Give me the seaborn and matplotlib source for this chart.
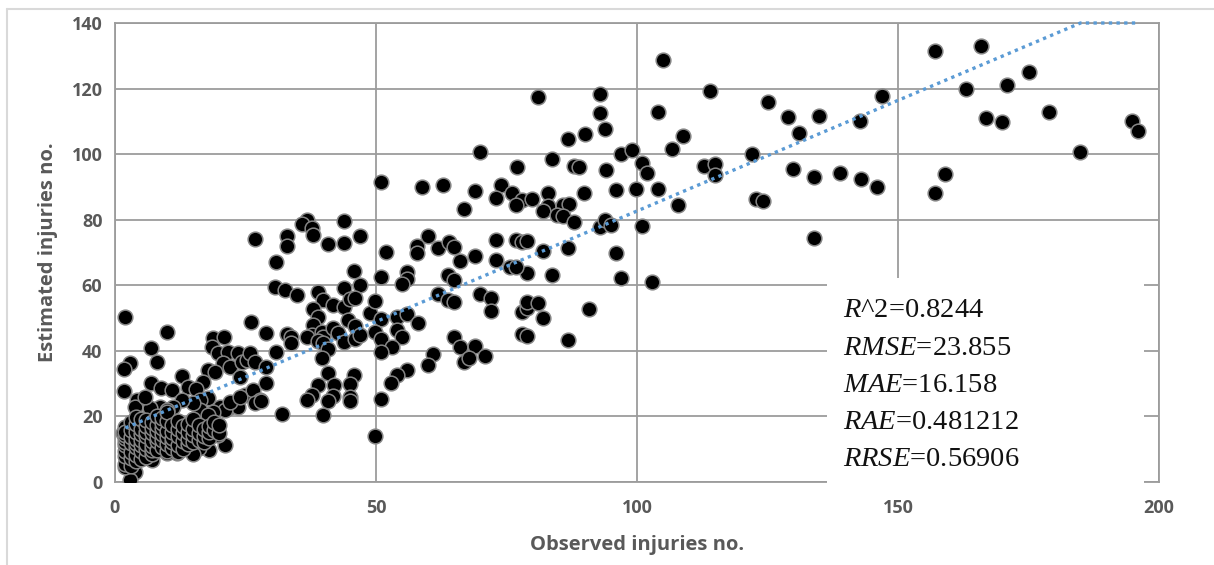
import numpy as np
import pandas as pd
import matplotlib
matplotlib.use("Agg")
import matplotlib.pyplot as plt
from matplotlib.patches import Rectangle
from matplotlib.lines import Line2D
import seaborn as sns

# ---------------- data ----------------
# low-count cluster and its upper fringe (x <= 30)
obs_low = [1.9, 9.9, 6.9, 2.9, 1.8, 8.0, 1.8, 4.2, 3.8, 6.9, 8.9, 10.9, 12.9, 13.9, 18.8, 20.9, 18.5,
           19.8, 21.7, 23.6, 20.7, 22.0, 24.3, 25.2, 17.9, 19.2, 16.9, 15.5, 17.9, 16.3, 20.1, 22.0,
           23.6, 21.1, 18.8, 16.3, 17.9, 15.0, 12.8, 11.2, 8.6, 6.7, 9.9, 5.7, 22.0, 24.9, 26.5, 27.8,
           26.8, 25.9, 26.8, 28.9, 23.9, 23.9, 28.0, 28.9,
           21.1, 19.8, 18.1, 16.0, 14.9, 11.8, 9.9, 7.0, 3.8, 2.9, 1.9, 1.6, 1.9, 12.8]
est_low = [50.4, 45.8, 41.0, 36.4, 34.4, 36.7, 27.8, 25.0, 23.0, 30.3, 28.6, 28.1, 32.3, 28.9, 43.8, 44.3, 41.3,
           39.2, 39.7, 39.2, 36.2, 35.2, 36.7, 37.2, 34.2, 33.6, 30.6, 28.3, 25.5, 25.0, 23.0, 23.0,
           23.0, 22.0, 21.4, 22.0, 20.4, 24.0, 25.0, 23.0, 23.0, 22.5, 22.0, 26.0, 24.5, 26.5, 28.1, 25.0,
           24.2, 39.2, 36.7, 35.0, 32.1, 26.0, 24.8, 30.1,
           11.3, 14.3, 9.8, 10.3, 8.5, 8.8, 8.8, 6.7, 3.1, 0.6, 4.7, 14.8, 16.9, 11.8]

# dense core of the cluster (stacks of counts 2..20)
obs_core = [2, 2, 2, 2, 2, 2, 2, 2, 3, 3, 3, 3, 3, 3, 3, 4, 4, 4, 4, 4, 4, 4, 4,
            5, 5, 5, 5, 5, 5, 5, 6, 6, 6, 6, 6, 6, 6, 7, 7, 7, 7, 7, 7, 7,
            8, 8, 8, 8, 8, 8, 9, 9, 9, 9, 9, 9, 10, 10, 10, 10, 10, 10,
            11, 11, 11, 11, 11, 12, 12, 12, 12, 12, 13, 13, 13, 13, 14, 14, 14, 14,
            15, 15, 15, 15, 16, 16, 16, 17, 17, 17, 18, 18, 18, 19, 19, 20, 20]
est_core = [5.6, 7.9, 9.4, 11.2, 12.1, 13.4, 14.3, 15.1, 4.8, 7.3, 9.1, 11.8, 13.7, 15.9, 18.2,
            6.4, 8.3, 10.6, 11.9, 13.2, 15.4, 17.6, 19.7,
            7.1, 9.5, 11.3, 12.8, 14.6, 16.1, 19.2, 7.7, 10.2, 11.6, 13.9, 15.3, 17.2, 18.8,
            8.6, 9.8, 11.1, 12.6, 14.8, 16.4, 18.3,
            9.9, 12.4, 13.6, 15.7, 17.3, 20.1, 10.8, 12.9, 14.7, 16.6, 18.1, 19.6,
            9.6, 11.7, 13.8, 15.5, 18.6, 21.2,
            10.3, 12.2, 13.3, 15.1, 17.4, 9.2, 11.4, 14.1, 16.2, 18.7, 10.1, 12.5, 14.9, 17.1,
            11.6, 13.1, 15.2, 17.8,
            12.3, 14.2, 16.3, 19.1, 12.9, 15.0, 17.3, 12.1, 13.9, 16.1, 13.4, 15.4, 17.0,
            15.8, 18.2, 14.9, 17.4]

# mid range (24 <= x <= 50)
obs_mid = [31.9, 39.9, 40.9, 42.0, 41.8, 40.9, 45.8, 45.0, 45.0, 45.0, 38.8, 37.7, 36.7, 26.1, 28.9,
           32.9, 33.8, 33.8, 30.8, 30.7, 32.6, 34.8, 36.7, 35.8, 37.7, 37.9, 43.9, 26.8, 32.9, 32.9,
           40.9, 43.9, 46.9, 30.8, 45.8, 46.9, 43.9, 38.9, 39.9, 41.8, 43.9, 45.0, 46.0, 37.9, 38.8,
           37.9, 37.7, 36.7, 39.6, 39.9, 41.8, 42.8, 44.7, 46.0, 43.9, 46.0, 46.9, 38.8, 39.9, 40.9,
           39.6, 48.9, 49.8]
est_mid = [20.6, 20.4, 33.2, 29.6, 26.2, 24.7, 32.6, 29.9, 25.8, 24.7, 29.6, 26.5, 25.0, 48.9, 45.5,
           45.0, 44.3, 42.3, 39.7, 59.4, 58.6, 57.0, 79.9, 78.6, 77.6, 75.3, 79.6, 74.0, 75.0, 72.0,
           72.6, 73.0, 75.0, 67.2, 64.4, 60.1, 59.3, 58.0, 55.5, 54.0, 53.3, 55.7, 56.0, 52.7, 50.4,
           47.9, 44.8, 44.3, 45.8, 44.3, 46.9, 45.3, 49.4, 47.6, 42.8, 43.5, 44.8, 43.1, 42.5, 40.5,
           37.7, 51.4, 55.3]

# 50 <= x <= 100
obs_high = [69.9, 86.8, 90.0, 93.9, 83.8, 77.0, 87.9, 88.9, 94.0, 96.9, 99.0, 51.0, 58.9, 62.9, 69.0,
            73.9, 76.0, 72.9, 77.9, 76.8, 79.9, 83.0, 83.0, 81.9, 85.9, 87.0, 84.7, 85.9, 87.9, 89.9,
            95.9, 66.9, 92.9, 93.9, 95.0, 82.0, 86.8, 95.9, 96.9, 83.8, 78.9, 72.9, 72.9, 76.8, 77.9,
            78.9, 75.7, 76.8, 59.9, 57.9, 57.9, 51.9, 61.8, 63.9, 65.0, 66.0, 69.0, 51.0, 56.0, 56.0,
            54.9, 63.7, 65.0, 61.9, 63.7, 65.0, 69.9, 72.0, 72.0, 77.9, 78.9, 78.9, 81.0, 81.9, 90.9,
            77.9, 78.9, 86.8, 51.0, 54.0, 56.0, 58.0, 49.9, 51.0, 54.0, 55.0, 53.0, 51.0, 65.0, 66.0,
            69.0, 70.9, 66.9, 67.9, 61.0, 59.9, 56.0, 54.0, 52.9, 51.0, 49.9, 81.0, 92.9, 92.9]
est_high = [100.7, 104.6, 106.1, 107.8, 98.4, 96.2, 96.5, 96.0, 95.1, 99.9, 101.2, 91.6, 90.1, 90.6, 88.7,
            90.6, 88.2, 86.7, 86.0, 84.5, 86.2, 88.0, 84.2, 82.7, 84.5, 84.8, 81.4, 81.1, 79.4, 88.0,
            89.1, 83.2, 77.9, 79.9, 78.4, 70.5, 71.3, 69.9, 62.3, 63.1, 63.8, 73.8, 67.7, 73.8, 73.3,
            73.6, 65.7, 65.7, 75.0, 72.0, 69.9, 70.2, 71.3, 73.3, 71.8, 67.4, 68.9, 62.6, 64.1, 61.9,
            60.4, 63.1, 61.6, 57.3, 55.5, 54.8, 57.3, 56.2, 52.2, 51.8, 53.0, 55.0, 54.7, 50.1, 52.7,
            45.1, 44.6, 43.3, 49.7, 50.4, 51.1, 48.4, 45.8, 43.6, 46.4, 44.1, 41.3, 39.7, 44.3, 41.3,
            41.5, 38.4, 36.7, 37.7, 39.0, 35.7, 34.2, 32.6, 30.1, 25.2, 14.0, 117.5, 118.2, 112.6]

# x > 100
obs_top = [104.9, 114.0, 104.0, 125.0, 129.0, 134.9, 131.0, 147.0, 142.8, 108.9, 106.8, 100.9, 102.0,
           99.9, 104.0, 107.9, 112.9, 115.0, 115.0, 122.0, 129.8, 133.9, 138.9, 142.9, 146.0, 122.8,
           124.1, 101.0, 134.0, 102.9, 157.0, 165.9, 175.0, 163.0, 170.9, 166.9, 170.0, 179.0, 194.9,
           195.9, 184.9, 159.0, 157.0]
est_top = [128.7, 119.3, 112.9, 116.0, 111.2, 111.6, 106.5, 117.8, 110.2, 105.6, 101.5, 97.4, 94.3,
           89.5, 89.3, 84.5, 96.4, 97.0, 93.6, 100.1, 95.6, 93.0, 94.3, 92.5, 90.0, 86.2,
           85.8, 78.1, 74.5, 61.1, 131.4, 133.1, 125.0, 120.0, 121.1, 111.0, 109.9, 112.8, 110.0,
           107.1, 100.8, 94.0, 88.3]

# linear trend line (Excel-style), clipped at the top of the axis
trend_slope = 0.675
trend_intercept = 15.15
trend_x_range = [2.0, 196.0]

stats_lines = [("R", "^2=0.8244"), ("RMSE", "=23.855"), ("MAE", "=16.158"),
               ("RAE", "=0.481212"), ("RRSE", "=0.56906")]

x_ticks = [0, 50, 100, 150, 200]
y_ticks = [0, 20, 40, 60, 80, 100, 120, 140]
x_label = "Observed injuries no."
y_label = "Estimated injuries no."

# ---------------- build ----------------
df = pd.DataFrame({
    "observed": obs_low + obs_core + obs_mid + obs_high + obs_top,
    "estimated": est_low + est_core + est_mid + est_high + est_top,
})

sns.set_theme(style="white")
plt.rcParams["font.family"] = ["Open Sans", "DejaVu Sans"]
plt.rcParams["mathtext.fontset"] = "custom"
plt.rcParams["mathtext.rm"] = "Liberation Serif"
plt.rcParams["mathtext.it"] = "Liberation Serif:italic"

W, H = 1214, 565
fig = plt.figure(figsize=(W / 100, H / 100), dpi=100)
ax = fig.add_axes([115 / W, 1 - 482 / H, (1159 - 115) / W, (482 - 23) / H])

grid_c = "#9c9c9c"
ax.set_axisbelow(True)
ax.grid(True, color=grid_c, linewidth=1.3)
for s in ax.spines.values():
    s.set_color(grid_c)
    s.set_linewidth(1.3)

sns.scatterplot(data=df, x="observed", y="estimated", ax=ax, s=112, color="black",
                edgecolor="#858585", linewidth=1.1, zorder=3, legend=False)

x_hit = (140 - trend_intercept) / trend_slope
tx = np.array([trend_x_range[0], x_hit, trend_x_range[1]])
ty = np.minimum(trend_slope * tx + trend_intercept, 140)
ax.plot(tx, ty, color="#5b9bd5", linewidth=2.4, linestyle=(0, (1, 1.3)),
        dash_capstyle="butt", zorder=4, clip_on=False)

ax.set_xlim(0, 200)
ax.set_ylim(0, 140)
ax.set_xticks(x_ticks)
ax.set_yticks(y_ticks)
ax.tick_params(length=0, labelsize=13, labelcolor="#595959", pad=9)
ax.tick_params(axis="x", pad=12)
for lab in ax.get_xticklabels() + ax.get_yticklabels():
    lab.set_fontweight("bold")

ax.set_xlabel(x_label, fontsize=14.5, fontweight="bold", color="#595959", labelpad=13)
ax.set_ylabel(y_label, fontsize=14.5, fontweight="bold", color="#595959", labelpad=10)

# white stats box hiding the grid
box = Rectangle((136.4, -0.6), 60.7, 62.8, facecolor="white", edgecolor="none",
                zorder=2.6, clip_on=False)
ax.add_patch(box)
y0 = 52.2
for i, (var, rest) in enumerate(stats_lines):
    ax.text(139.4, y0 - i * 11.35, f"${var}$" + rest, fontsize=20.5, color="#111111",
            family="Liberation Serif", va="center", ha="left", zorder=5)

# light outer frame of the picture
fig.add_artist(Line2D([7 / W, 7 / W], [-0.1, 1 - 9 / H], transform=fig.transFigure,
                      color="#d9d9d9", linewidth=1.5))
fig.add_artist(Line2D([7 / W, 1.1], [1 - 9 / H, 1 - 9 / H], transform=fig.transFigure,
                      color="#d9d9d9", linewidth=1.5))

fig.savefig("out.png", dpi=100, facecolor="white")
